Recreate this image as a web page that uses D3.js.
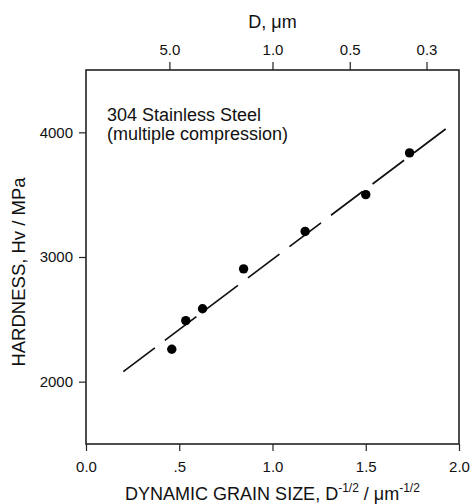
<!DOCTYPE html>
<html>
<head>
<meta charset="utf-8">
<script src="https://cdn.jsdelivr.net/npm/d3@7"></script>
<style>
  html, body { margin: 0; padding: 0; background: #fff; }
  svg { display: block; font-family: "Liberation Sans", Arial, sans-serif; }
</style>
</head>
<body>
<svg id="chart" width="471" height="504"></svg>
<script>
// Data
const grainSize = [0.46, 0.535, 0.625, 0.845, 1.175, 1.5, 1.735];   // D^-1/2, um^-1/2
const hardness  = [2260, 2490, 2585, 2905, 3205, 3500, 3835];      // Hv, MPa
const fitX = [0.2, 1.94];
const fitY = [2080, 4040];
const bottomTicks = [0, 0.5, 1.0, 1.5, 2.0];
const bottomTickLabels = ["0.0", ".5", "1.0", "1.5", "2.0"];
const leftTicks = [2000, 3000, 4000];
const topTickD = [5.0, 1.0, 0.5, 0.3];
const topTickLabels = ["5.0", "1.0", "0.5", "0.3"];

const svg = d3.select("#chart");
const m = { left: 86, right: 459, top: 70, bottom: 444 };

const x = d3.scaleLinear().domain([0, 2]).range([m.left, m.right]);
const y = d3.scaleLinear().domain([1500, 4500]).range([m.bottom, m.top]);

const ink = "#111";
const font = '"Liberation Sans", Arial, sans-serif';

// Frame
svg.append("rect")
  .attr("x", m.left).attr("y", m.top)
  .attr("width", m.right - m.left).attr("height", m.bottom - m.top)
  .attr("fill", "none").attr("stroke", "#222").attr("stroke-width", 1.6);

// Bottom axis
const xAxis = d3.axisBottom(x).tickValues(bottomTicks)
  .tickFormat((d, i) => bottomTickLabels[i]).tickSize(7).tickPadding(10);
const gx = svg.append("g").attr("transform", `translate(0,${m.bottom})`).call(xAxis);

// Left axis
const yAxis = d3.axisLeft(y).tickValues(leftTicks).tickFormat(d3.format("d")).tickSize(7).tickPadding(6);
const gy = svg.append("g").attr("transform", `translate(${m.left},0)`).call(yAxis);

// Top axis (D in um, placed at D^-1/2)
const xTop = d3.axisTop(x).tickValues(topTickD.map(d => Math.pow(d, -0.5)))
  .tickFormat((d, i) => topTickLabels[i]).tickSize(8).tickPadding(7);
const gt = svg.append("g").attr("transform", `translate(0,${m.top})`).call(xTop);

[gx, gy, gt].forEach(g => {
  g.select(".domain").remove();
  g.selectAll(".tick line").attr("stroke", "#222").attr("stroke-width", 1.2);
  g.selectAll(".tick text").attr("fill", ink).style("font-size", "15px")
    .style("font-family", font);
});

// Axis titles
svg.append("text").attr("x", x(1)).attr("y", 28).attr("text-anchor", "middle")
  .attr("fill", ink).style("font-size", "18px").text("D, μm");

const xt = svg.append("text").attr("x", x(1)).attr("y", 500).attr("text-anchor", "middle")
  .attr("fill", ink).style("font-size", "18px");
xt.append("tspan").text("DYNAMIC GRAIN SIZE, D");
xt.append("tspan").attr("dy", -8).style("font-size", "12px").text("-1/2");
xt.append("tspan").attr("dy", 8).text(" / μm");
xt.append("tspan").attr("dy", -8).style("font-size", "12px").text("-1/2");

svg.append("text").attr("transform", `translate(25,272) rotate(-90)`)
  .attr("text-anchor", "middle").attr("fill", ink).style("font-size", "18.5px")
  .text("HARDNESS, Hv / MPa");

// Annotation
svg.append("text").attr("x", 107).attr("y", 121).attr("fill", ink).style("font-size", "18px")
  .text("304 Stainless Steel");
svg.append("text").attr("x", 107).attr("y", 140).attr("fill", ink).style("font-size", "18px")
  .text("(multiple compression)");

// Fit line (dashed)
const line = d3.line().x(d => x(d[0])).y(d => y(d[1]));
svg.append("path").datum(d3.zip(fitX, fitY)).attr("d", line)
  .attr("fill", "none").attr("stroke", ink).attr("stroke-width", 1.7)
  .attr("stroke-dasharray", "39.5,12.5");

// Points
svg.append("g").selectAll("circle").data(d3.zip(grainSize, hardness)).join("circle")
  .attr("cx", d => x(d[0])).attr("cy", d => y(d[1])).attr("r", 4.7).attr("fill", "#000");
</script>
</body>
</html>
